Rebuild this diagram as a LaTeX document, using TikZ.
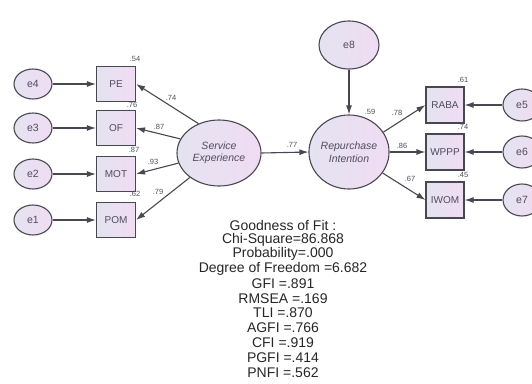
\documentclass[tikz,border=0pt]{standalone}
\usepackage{fontspec}
\setmainfont{Liberation Sans}
\usetikzlibrary{shapes.geometric,arrows.meta}
\definecolor{semline}{RGB}{72,72,80}
\definecolor{semtext}{RGB}{80,76,96}
\definecolor{semleft}{RGB}{228,227,240}
\definecolor{semright}{RGB}{240,220,243}

\begin{document}
\begin{tikzpicture}[x=1pt,y=-1pt,
  obs/.style={draw=semline,line width=1.1pt,left color=semleft,right color=semright,
    minimum width=39pt,minimum height=35pt,inner sep=0pt,text=semtext,
    font=\fontsize{10}{10}\selectfont},
  err/.style={ellipse,draw=semline,line width=1.1pt,left color=semleft,right color=semright,
    minimum width=38pt,minimum height=30pt,inner sep=0pt,text=semtext,
    font=\fontsize{10.5}{10.5}\selectfont},
  lat/.style={ellipse,draw=semline,line width=1.1pt,left color=semleft,right color=semright,
    inner sep=0pt,align=center,text=semtext,font=\fontsize{10.5}{12.5}\selectfont\itshape},
  path/.style={draw=semline,line width=1.1pt,-{Latex[length=9pt,width=6pt]}},
  est/.style={inner sep=0pt,text=semtext,font=\fontsize{7.5}{7.5}\selectfont}]
\useasboundingbox (0,0) rectangle (532,383);

% Latent variables
\node[lat,minimum width=84pt,minimum height=66pt] (se) at (219,153) {Service\\Experience};
\node[lat,minimum width=78pt,minimum height=74pt] (ri) at (349,152) {Repurchase\\Intention};
\node[err,minimum width=60pt,minimum height=48pt] (e8) at (349,45) {e8};

% Service Experience indicators
\foreach \name/\err/\y in {PE/e4/84, OF/e3/128, MOT/e2/174, POM/e1/220} {
    \node[obs] (\name) at (116,\y) {\name};
    \node[err] (\err) at (33,\y) {\err};
    \draw[path] (\err) -- (\name);
}

% Repurchase Intention indicators
\foreach \name/\err/\y in {RABA/e5/105, WPPP/e6/152, IWOM/e7/200} {
    \node[obs,minimum width=38pt,minimum height=36pt] (\name) at (445,\y) {\name};
    \node[err,minimum height=32pt] (\err) at (522,\y) {\err};
    \draw[path] (\err) -- (\name);
}

% Loadings and paths
\draw[path] (se.125) -- (PE.east);
\draw[path] (se.160) -- (OF.east);
\draw[path] (se.194) -- (MOT.east);
\draw[path] (se.220) -- (POM.east);
\draw[path] (se.east) -- (ri.west);
\draw[path] (e8) -- (ri);
\draw[path] (ri.30) -- (RABA.west);
\draw[path] (ri.east) -- (WPPP.west);
\draw[path] (ri.-32) -- (IWOM.west);

% Estimates
\foreach \x/\y/\val [count=\i] in {135/59/.54, 132/105/.76, 134/150/.87, 135/194/.62,
    171/98/.74, 159/127/.87, 153/162/.93, 158/192/.79, 292/145/.77, 370/112/.59,
    397/113/.78, 402/146/.86, 410/179/.67, 463/80/.61, 463/127/.74, 463/175/.45} {
    \node[est] (est\i) at (\x,\y) {\val};
}

% Goodness of fit
\foreach \y/\txt [count=\i] in {225/Goodness of Fit :, 240/Chi-Square=86.868,
    254/Probability=.000, 269/Degree of Freedom =6.682, 284/GFI =.891,
    299/RMSEA =.169, 313/TLI =.870, 328/AGFI =.766, 343/CFI =.919,
    358/PGFI =.414, 373/PNFI =.562} {
    \node[inner sep=0pt,font=\fontsize{14}{14}\selectfont,text=black!85] (fit\i) at (283,\y) {\txt};
}
\end{tikzpicture}
\end{document}
